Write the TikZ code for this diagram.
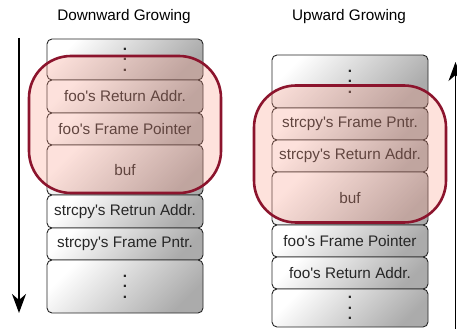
\documentclass[tikz,border=0pt]{standalone}
\usepackage{fontspec}
\setmainfont{Liberation Sans}
\usetikzlibrary{arrows.meta,positioning}
\definecolor{framered}{RGB}{140,20,45}
\definecolor{framefill}{RGB}{250,150,130}
\newcommand\q{\textquotesingle}
\newcommand\stackdots{\vbox{\bfseries\baselineskip=10.5pt\lineskiplimit=0pt\hbox{.}\hbox{.}\hbox{.}}}

\begin{document}
\begin{tikzpicture}[x=1pt,y=-1pt]
	\tikzstyle{every node}=[font=\fontsize{15.3}{18}\selectfont]
	\tikzstyle{slot}=[draw=black!85, line width=0.9pt, rounded corners=5pt, top color=white, bottom color=black!33, shading angle=45, minimum width=156pt, inner sep=0pt, text=black!85]
	\tikzstyle{frame}=[draw=framered, line width=2.6pt, rounded corners=42pt, fill=framefill, fill opacity=0.28, draw opacity=1, inner sep=0pt, minimum width=192pt, minimum height=137pt]
	\tikzstyle{growth}=[line width=1.7pt, -{Stealth[length=19pt,width=14pt,inset=6pt]}]
	\useasboundingbox (0,0) rectangle (457,329);
	% downward growing stack
	\node (dntitle) at (124,17) {Downward Growing};
	\node [slot, minimum height=41pt] (dn1) at (125,59.5) {\stackdots};
	\node [slot, minimum height=33pt] (dn2) at (125,96.5) {foo\q s Return Addr.};
	\node [slot, minimum height=32pt] (dn3) at (125,129) {foo\q s Frame Pointer};
	\node [slot, minimum height=50pt] (dn4) at (125,170) {buf};
	\node [slot, minimum height=33pt] (dn5) at (125,211.5) {strcpy\q s Retrun Addr.};
	\node [slot, minimum height=32pt] (dn6) at (125,244) {strcpy\q s Frame Pntr.};
	\node [slot, minimum height=53pt] (dn7) at (125,286.5) {\stackdots};
	\node [frame] (dnframe) at (125,124.5) {};
	\coordinate (dntop) at (19,38);
	\coordinate (dnbot) at (19,313);
	\draw [growth] (dntop) -- (dnbot);
	% upward growing stack
	\node (uptitle) at (349,17) {Upward Growing};
	\node [slot, minimum height=53pt] (up1) at (350,81.5) {\stackdots};
	\node [slot, minimum height=32pt] (up2) at (350,124) {strcpy\q s Frame Pntr.};
	\node [slot, minimum height=32pt] (up3) at (350,156) {strcpy\q s Return Addr.};
	\node [slot, minimum height=53pt] (up4) at (350,198.5) {buf};
	\node [slot, minimum height=32pt] (up5) at (350,241) {foo\q s Frame Pointer};
	\node [slot, minimum height=32pt] (up6) at (350,273) {foo\q s Return Addr.};
	\node [slot, minimum height=38pt] (up7) at (350,308) {\stackdots};
	\node [frame] (upframe) at (350,154) {};
	\coordinate (upbot) at (455.5,329);
	\coordinate (uptop) at (455.5,62);
	\draw [growth] (upbot) -- (uptop);
\end{tikzpicture}
\end{document}
